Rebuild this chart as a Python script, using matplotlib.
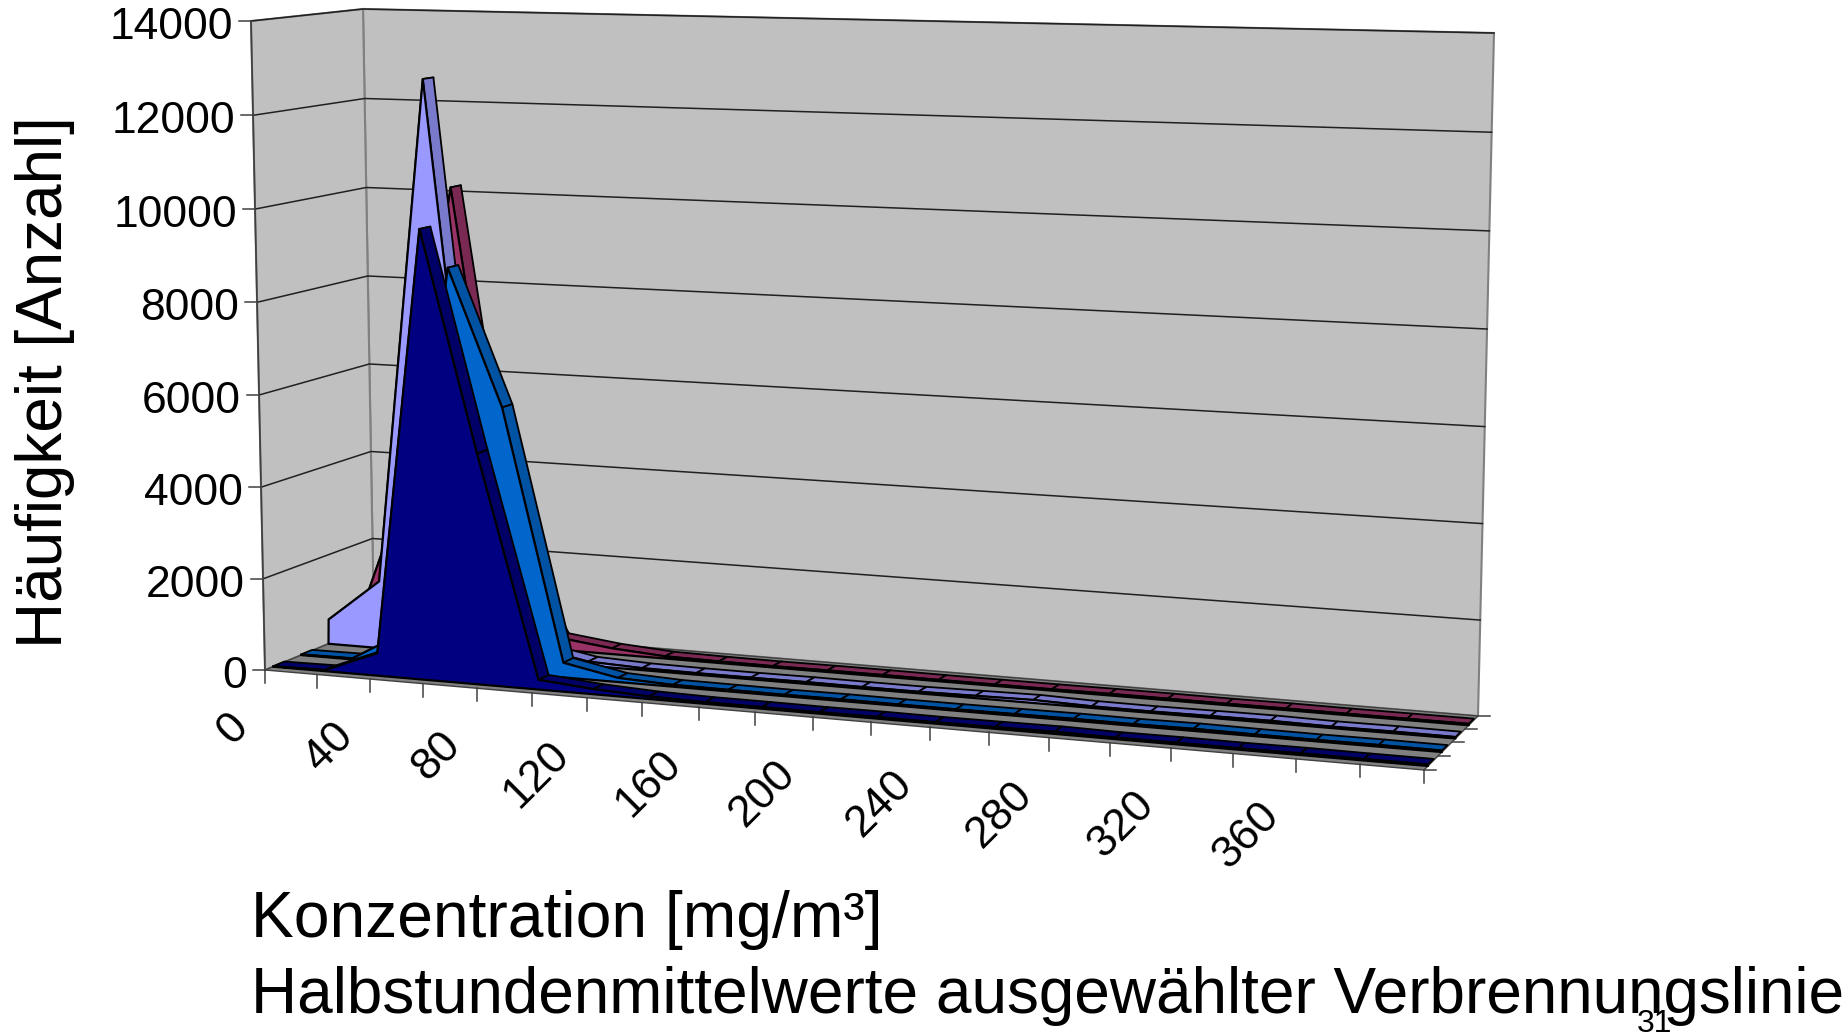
import numpy as np
import matplotlib
matplotlib.use("Agg")
import matplotlib.pyplot as plt
from matplotlib.patches import Polygon

plt.rcParams["font.family"] = ["Liberation Sans", "DejaVu Sans"]

# values per class, front series first
navy_vals = [10, 25, 490, 9680, 4970, 210, 110, 55, 35, 35, 30, 35, 30, 35, 45, 30, 35, 30, 35, 30, 30]
blue_vals = [15, 25, 700, 8720, 5770, 320, 90, 40, 35, 30, 35, 30, 30, 35, 40, 35, 45, 35, 30, 35, 30]
purple_vals = [550, 1500, 12640, 1800, 300, 90, 45, 35, 35, 40, 35, 35, 50, 65, 35, 30, 40, 45, 30, 35, 30]
maroon_vals = [100, 3400, 10170, 2400, 270, 130, 50, 35, 30, 35, 35, 30, 30, 30, 35, 35, 30, 35, 30, 30, 30]

x_labels = ["0", "40", "80", "120", "160", "200", "240", "280", "320", "360"]
y_ticks = [0, 2000, 4000, 6000, 8000, 10000, 12000, 14000]

N_SEG = 20
Z_MAX = 14000.0
WARP = 1.03
Z_WARP = 1.02

# cube corners in pixels: (x, depth) -> floor and ceiling
FLOOR = [(265, 670), (1424, 770), (1478, 716), (374, 625)]
CEIL = [(251, 21), (1441, 50), (1494, 33), (363, 9)]


def homography(corners):
    """Map the unit square onto a four corner quad."""
    src = [(0, 0), (1, 0), (1, 1), (0, 1)]
    rows, rhs = [], []
    for (u, v), (x, y) in zip(src, corners):
        rows.append([u, v, 1, 0, 0, 0, -u * x, -v * x])
        rows.append([0, 0, 0, u, v, 1, -u * y, -v * y])
        rhs += [x, y]
    return np.append(np.linalg.solve(np.array(rows, float), np.array(rhs, float)), 1).reshape(3, 3)


H_FLOOR = homography(FLOOR)
H_CEIL = homography(CEIL)


def _apply(h, u, d):
    p = h @ np.array([u, d, 1.0])
    return p[:2] / p[2]


def proj(i, d, z=0.0, upright=False):
    """Class index, depth 0..1 and value to picture pixels."""
    u = i / N_SEG
    u = u / (WARP - (WARP - 1) * u)
    t = z / Z_MAX
    t = t / (Z_WARP - (Z_WARP - 1) * t)
    a = _apply(H_FLOOR, u, d)
    b = _apply(H_CEIL, u, d)
    p = a + (b - a) * t
    if upright:
        # series stand straighter than the wall edges on the left side
        p[0] += 15 * t * (1 - u)
    return tuple(p)


fig = plt.figure(figsize=(18.42, 10.32), dpi=100)
ax = fig.add_axes([0, 0, 1, 1])
ax.set_xlim(0, 1842)
ax.set_ylim(1032, 0)
ax.axis("off")

# walls and floor
ax.add_patch(Polygon([proj(0, 1), proj(N_SEG, 1), proj(N_SEG, 1, Z_MAX), proj(0, 1, Z_MAX)], fc="#C0C0C0", ec="#808080", lw=1.5, zorder=1))
ax.add_patch(Polygon([proj(0, 0), proj(0, 1), proj(0, 1, Z_MAX), proj(0, 0, Z_MAX)], fc="#C0C0C0", ec="#808080", lw=1.5, zorder=1))
ax.add_patch(Polygon([proj(0, 0), proj(N_SEG, 0), proj(N_SEG, 1), proj(0, 1)], fc="#808080", ec="#404040", lw=1, zorder=1))

# grid lines and ticks on the value axis
for z in y_ticks:
    pts = [proj(0, 0, z), proj(0, 1, z), proj(N_SEG, 1, z)]
    if z > 0:
        ax.plot([p[0] for p in pts], [p[1] for p in pts], color="#202020", lw=1.1, zorder=2)
    x0, y0 = pts[0]
    ax.plot([x0 - 12, x0], [y0, y0], color="#404040", lw=1.1, zorder=2)
    ax.text(x0 - 18, y0 + 2, str(z), ha="right", va="center_baseline", fontsize=32, color="black")
ax.plot(*zip(proj(0, 0), proj(0, 0, Z_MAX)), color="#404040", lw=1.2, zorder=2)

# ticks under the front edge and on the depth edge
for i in range(N_SEG + 1):
    x0, y0 = proj(i, 0)
    ax.plot([x0, x0], [y0, y0 + 13], color="#404040", lw=1.1, zorder=2)
for k in range(5):
    x0, y0 = proj(N_SEG, k / 4)
    ax.plot([x0, x0 + 12], [y0, y0], color="#404040", lw=1.1, zorder=2)

for j, lab in enumerate(x_labels):
    x0, y0 = proj(2 * j, 0)
    ax.text(x0 - 38, y0 + 36, lab, rotation=45, rotation_mode="anchor", ha="right", va="top", fontsize=32)

# series, back to front
series = [
    (maroon_vals, 0.82, 0.92, "#993366", "#7A2952"),
    (purple_vals, 0.57, 0.67, "#9999FF", "#7A7ACC"),
    (blue_vals, 0.32, 0.42, "#0066CC", "#0052A3"),
    (navy_vals, 0.07, 0.17, "#000080", "#000066"),
]
zo = 3
for vals, d0, d1, face, top in series:
    for i in range(N_SEG):
        quad = [proj(i, d0, vals[i], True), proj(i + 1, d0, vals[i + 1], True),
                proj(i + 1, d1, vals[i + 1], True), proj(i, d1, vals[i], True)]
        ax.add_patch(Polygon(quad, fc=top, ec="black", lw=1.3, joinstyle="round", zorder=zo))
    outline = [proj(i, d0, v, True) for i, v in enumerate(vals)] + [proj(N_SEG, d0), proj(0, d0)]
    ax.add_patch(Polygon(outline, fc=face, ec="black", lw=1.6, joinstyle="round", zorder=zo + 1))
    zo += 2

ax.text(45, 382, "Häufigkeit [Anzahl]", rotation=90, ha="center", va="center", fontsize=46)
ax.text(251, 937, "Konzentration [mg/m³]", ha="left", va="baseline", fontsize=46.2)
ax.text(251, 1013, "Halbstundenmittelwerte ausgewählter Verbrennungslinien", ha="left", va="baseline", fontsize=46)
ax.text(1637, 1032, "31", ha="left", va="baseline", fontsize=23, color="black", zorder=20)

fig.savefig("out.png", dpi=100)
